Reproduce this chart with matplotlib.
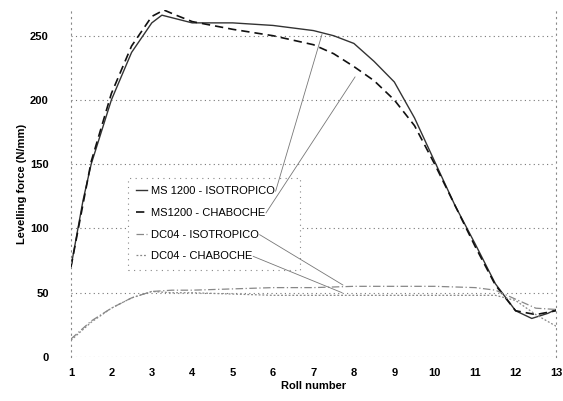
import matplotlib
matplotlib.use("Agg")
import matplotlib.pyplot as plt

# ---- data ----
x_ms_iso = [1, 1.3, 1.5, 2, 2.5, 3, 3.25, 3.5, 4, 5, 6, 7, 7.5, 8, 8.5, 9, 9.5, 10, 10.5, 11, 11.5, 12, 12.4, 12.8, 13]
y_ms_iso = [70, 122, 150, 200, 237, 260, 266, 264, 260, 260, 258, 254, 250, 244, 230, 214, 186, 152, 118, 88, 57, 36, 30, 34, 37]

x_ms_cha = [1, 1.5, 2, 2.5, 3, 3.3, 3.6, 4, 5, 6, 7, 7.5, 8, 8.5, 9, 9.5, 10, 10.5, 11, 11.5, 12, 12.5, 13]
y_ms_cha = [70, 152, 205, 242, 265, 270, 266, 261, 255, 250, 243, 236, 226, 215, 200, 180, 150, 118, 86, 56, 36, 33, 36]

x_dc = [1, 1.5, 2, 2.5, 3, 3.5, 4, 5, 6, 7, 8, 9, 10, 11, 11.5, 12, 12.5, 13]
y_dc_iso = [14, 28, 38, 46, 51, 52, 52, 53, 54, 54, 55, 55, 55, 54, 52, 45, 38, 37]
y_dc_cha = [13, 27, 38, 46, 51, 50, 50, 49, 48, 48, 48, 48, 48, 48, 48, 44, 33, 24]

labels = ["MS 1200 - ISOTROPICO", "MS1200 - CHABOCHE", "DC04 - ISOTROPICO", "DC04 - CHABOCHE"]
# leader line targets on the curves (data coords)
leader_pts = [(7.21, 251), (8.03, 218), (7.73, 56), (7.71, 50)]

x_ticks = list(range(1, 14))
y_ticks = [0, 50, 100, 150, 200, 250]

plt.rcParams['font.family'] = ['Liberation Sans', 'DejaVu Sans']

fig = plt.figure(figsize=(5.63, 4.01), dpi=100)
ax = fig.add_axes([0.126, 0.1097, 0.8616, 0.8653])

l1, = ax.plot(x_ms_iso, y_ms_iso, color='#333333', lw=1.0, ls='-')
l2, = ax.plot(x_ms_cha, y_ms_cha, color='#111111', lw=1.2, ls=(0, (5, 3)))
l3, = ax.plot(x_dc, y_dc_iso, color='#888888', lw=0.9, ls=(0, (6, 2, 1, 2)))
l4, = ax.plot(x_dc, y_dc_cha, color='#888888', lw=0.9, ls=(0, (1.5, 1.5)))

ax.set_xlim(1, 13)
ax.set_ylim(0, 270)
ax.set_xticks(x_ticks)
ax.set_yticks(y_ticks)
ax.tick_params(axis='both', length=0, labelsize=8)
ax.tick_params(axis='y', pad=16)
ax.tick_params(axis='x', pad=8)
for lab in ax.get_xticklabels() + ax.get_yticklabels():
    lab.set_fontweight('bold')

ax.yaxis.grid(True, ls=(0, (1, 3)), color='#777777', lw=0.8)
ax.set_axisbelow(True)
for s in ['top', 'bottom']:
    ax.spines[s].set_visible(False)
for s in ['left', 'right']:
    ax.spines[s].set_linestyle((0, (1, 4)))
    ax.spines[s].set_color('#888888')
    ax.spines[s].set_linewidth(0.8)

ax.set_xlabel("Roll number", fontsize=8, fontweight='bold', labelpad=2)
ax.set_ylabel("Levelling force (N/mm)", fontsize=8, fontweight='bold', labelpad=2)

leg = ax.legend([l1, l2, l3, l4], labels, loc='upper left',
                bbox_to_anchor=(0.1175, 0.256, 0.3546, 0.26), mode='expand',
                borderaxespad=0,
                fontsize=8, handlelength=1.0, handletextpad=0.3,
                labelspacing=1.05, borderpad=0.75, fancybox=False,
                framealpha=1.0, facecolor='white', edgecolor='#888888')
leg.get_frame().set_linestyle((0, (1, 4)))
leg.get_frame().set_linewidth(0.8)

fig.canvas.draw()
inv = ax.transData.inverted()
for txt, pt in zip(leg.get_texts(), leader_pts):
    bb = txt.get_window_extent()
    start = inv.transform((bb.x1 + 1, (bb.y0 + bb.y1) / 2))
    ax.annotate("", xy=pt, xycoords='data', xytext=tuple(start), textcoords='data',
                arrowprops=dict(arrowstyle='-', color='#777777', lw=0.6,
                                shrinkA=0, shrinkB=0), zorder=6)

fig.savefig("out.png", dpi=100)
